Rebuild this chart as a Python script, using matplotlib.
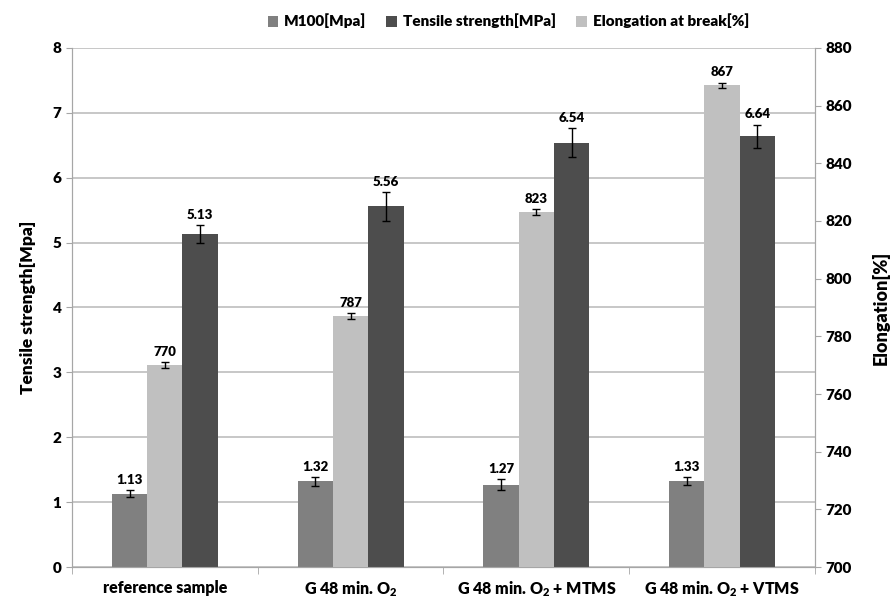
import matplotlib
matplotlib.use("Agg")
import matplotlib.pyplot as plt
import numpy as np

# Sample groups and measured values
samples = ["reference sample", r"G 48 min. O$_2$", r"G 48 min. O$_2$ + MTMS", r"G 48 min. O$_2$ + VTMS"]
m100 = [1.13, 1.32, 1.27, 1.33]
m100_err = [0.055, 0.07, 0.08, 0.06]
tensile = [5.13, 5.56, 6.54, 6.64]
tensile_err = [0.14, 0.22, 0.22, 0.18]
elongation = [770, 787, 823, 867]
elongation_err = [1.0, 1.0, 1.0, 1.0]

WEIGHT = 'heavy'
plt.rcParams['font.family'] = ['Lato', 'DejaVu Sans']
plt.rcParams['font.weight'] = WEIGHT
plt.rcParams['mathtext.fontset'] = 'custom'
plt.rcParams['mathtext.rm'] = 'Lato:heavy'
plt.rcParams['mathtext.default'] = 'rm'

c_m100 = '#808080'
c_tens = '#4d4d4d'
c_elong = '#c0c0c0'
axis_grey = '#a6a6a6'

fig = plt.figure(figsize=(8.95, 5.99), dpi=100)
ax = fig.add_axes([0.0804, 0.0534, 0.8302, 0.8665])
ax2 = ax.twinx()

x = np.arange(len(samples))
w = 0.19
err_kw = dict(ecolor='black', elinewidth=1.0, capsize=3, capthick=1.0)

b1 = ax.bar(x - w, m100, w, yerr=m100_err, color=c_m100, error_kw=err_kw, label='M100[Mpa]', zorder=3)
b3 = ax.bar(x + w, tensile, w, yerr=tensile_err, color=c_tens, error_kw=err_kw,
            label='Tensile strength[MPa]', zorder=3)
b2 = ax2.bar(x, elongation, w, yerr=elongation_err, color=c_elong, error_kw=err_kw,
             label='Elongation at break[%]', zorder=3)

ax.set_ylim(0, 8)
ax2.set_ylim(700, 880)
ax.set_xlim(-0.5, 3.5)
ax.set_yticks(np.arange(0, 9, 1))
ax2.set_yticks(np.arange(700, 881, 20))

# value labels above each error bar
def put_labels(axis, xs, vals, errs, fmt):
    for xi, v, e in zip(xs, vals, errs):
        axis.annotate(fmt.format(v), (xi, v + e), xytext=(0, 3), textcoords='offset points',
                      ha='center', va='bottom', fontsize=9.5, fontweight=WEIGHT)

put_labels(ax, x - w, m100, m100_err, "{:.2f}")
put_labels(ax, x + w, tensile, tensile_err, "{:.2f}")
put_labels(ax2, x, elongation, elongation_err, "{:.0f}")

ax.yaxis.grid(True, color='#bdbdbd', linewidth=1.2, zorder=0)
ax.set_axisbelow(True)

for a in (ax, ax2):
    a.spines['top'].set_visible(False)
    for s in ('left', 'right', 'bottom'):
        a.spines[s].set_color(axis_grey)
    a.tick_params(colors=axis_grey, labelcolor='black', labelsize=11, length=4)

ax.set_xticks(x)
ax.set_xticklabels(samples, fontsize=11.5, fontweight=WEIGHT)
ax.set_xticks(np.arange(-0.5, 4.0, 1.0), minor=True)
ax.tick_params(axis='x', which='major', length=0, pad=9)
ax.tick_params(axis='x', which='minor', length=5, color=axis_grey)

ax.set_ylabel('Tensile strength[Mpa]', fontsize=12.5, fontweight=WEIGHT, labelpad=12)
ax2.set_ylabel('Elongation[%]', fontsize=13, fontweight=WEIGHT, labelpad=14)

fig.legend(handles=[b1, b3, b2], loc='upper center', bbox_to_anchor=(0.568, 1.0), ncol=3,
           frameon=False, fontsize=11, handlelength=0.7, handleheight=0.7, handletextpad=0.4,
           columnspacing=1.3)

fig.savefig('out.png', dpi=100)
